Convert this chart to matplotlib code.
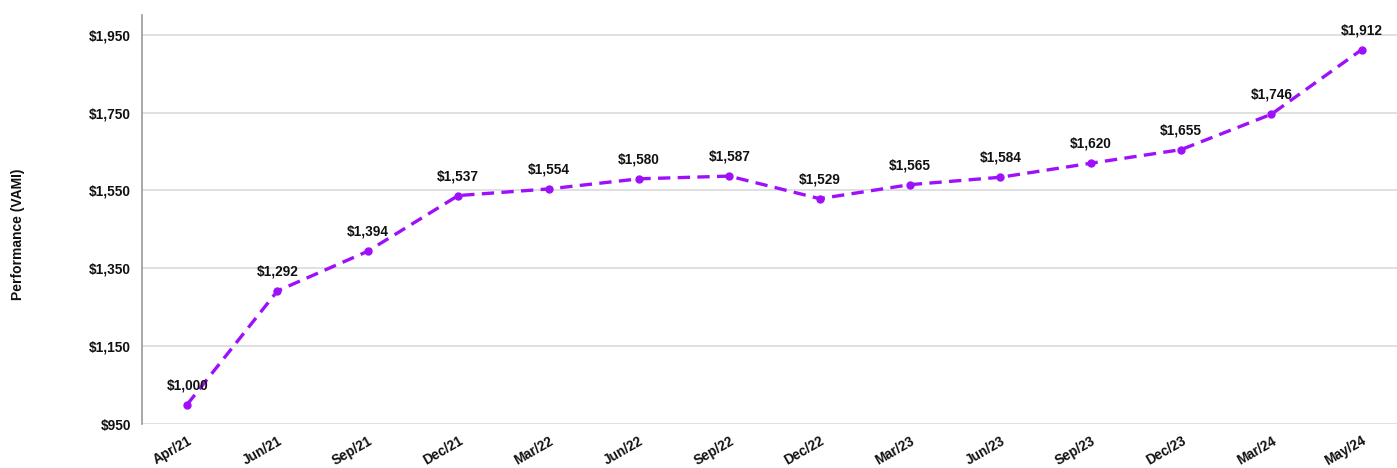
import matplotlib
matplotlib.use("Agg")
import matplotlib.pyplot as plt

categories = ["Apr/21", "Jun/21", "Sep/21", "Dec/21", "Mar/22", "Jun/22", "Sep/22",
              "Dec/22", "Mar/23", "Jun/23", "Sep/23", "Dec/23", "Mar/24", "May/24"]
values = [1000, 1292, 1394, 1537, 1554, 1580, 1587, 1529, 1565, 1584, 1620, 1655, 1746, 1912]
yticks = [950, 1150, 1350, 1550, 1750, 1950]

plt.rcParams['font.family'] = ['Liberation Sans', 'DejaVu Sans']
fig = plt.figure(figsize=(13.97, 4.68), dpi=100)
ax = fig.add_axes([0.1016, 0.094, 0.8984, 0.874])

x = list(range(len(categories)))
ax.plot(x, values, color='#9F10FA', linestyle=(0, (3.7, 2.2)), linewidth=2.4,
        marker='o', markersize=5, zorder=3)
for xi, v in zip(x, values):
    ax.annotate(f"${v:,}", (xi, v), xytext=(0, 9), textcoords='offset points',
                ha='center', va='bottom', fontsize=9.8, fontweight='bold', color='#111111')

ax.set_xlim(-0.5, 13.39)
ax.set_ylim(950, 2001)
ax.set_yticks(yticks)
ax.set_yticklabels([f"${t:,}" for t in yticks], fontsize=9.8, fontweight='bold', color='#111111')
ax.set_xticks(x)
ax.set_xticklabels(categories, rotation=30, ha='right', rotation_mode='anchor',
                   fontsize=9.8, fontweight='bold', color='#111111')
ax.grid(axis='y', color='#dddddd', linewidth=1.3)
ax.set_axisbelow(True)
for s in ['top', 'right', 'bottom']:
    ax.spines[s].set_visible(False)
ax.spines['left'].set_color('#999999')
ax.spines['left'].set_linewidth(1.2)
ax.tick_params(axis='y', length=0, pad=8)
ax.tick_params(axis='x', length=0, pad=7)
fig.text(0.013, 0.5, "Performance (VAMI)", rotation=90, va='center', ha='center',
         fontsize=10, fontweight='bold', color='#111111')
fig.savefig("out.png", dpi=100)
